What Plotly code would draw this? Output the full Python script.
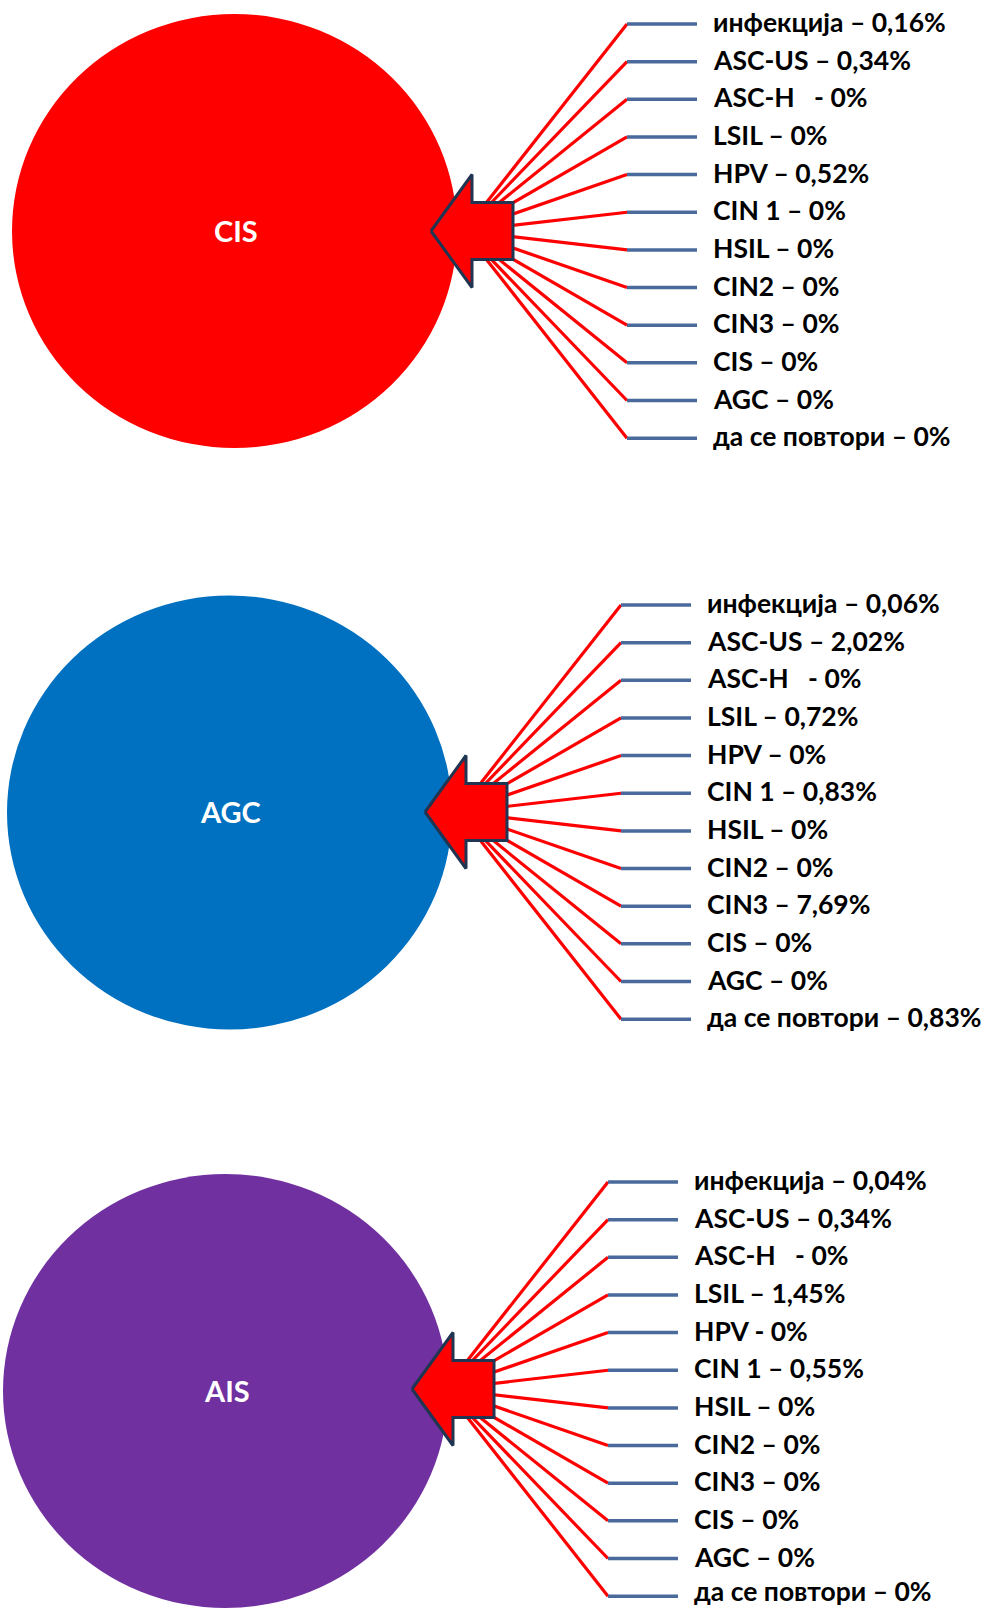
import plotly.graph_objects as go

# ---------------- data ----------------
panels = ["CIS", "AGC", "AIS"]
panel_colors = ["#FE0000", "#0070C0", "#7030A0"]
categories = ["инфекција", "ASC-US", "ASC-H ", "LSIL", "HPV", "CIN 1",
              "HSIL", "CIN2", "CIN3", "CIS", "AGC", "да се повтори"]
cis_values = ["0,16", "0,34", "0", "0", "0,52", "0", "0", "0", "0", "0", "0", "0"]
agc_values = ["0,06", "2,02", "0", "0,72", "0", "0,83", "0", "0", "7,69", "0", "0", "0,83"]
ais_values = ["0,04", "0,34", "0", "1,45", "0", "0,55", "0", "0", "0", "0", "0", "0"]
cis_seps = ["–", "–", " -", "–", "–", "–", "–", "–", "–", "–", "–", "–"]
agc_seps = ["–", "–", " -", "–", "–", "–", "–", "–", "–", "–", "–", "–"]
ais_seps = ["–", "–", " -", "–", "-", "–", "–", "–", "–", "–", "–", "–"]
values = [cis_values, agc_values, ais_values]
seps = [cis_seps, agc_seps, ais_seps]

# ---------------- layout geometry ----------------
W, H = 985, 1608
junction_x = [627, 621, 608]      # where red line meets blue line
top_y = [24, 605, 1182]           # y of first row
circle_c = [(234.5, 231), (229.5, 812.5), (225.5, 1391)]
RX, RY = 222.5, 217
ROW = 37.65
BLUE_LEN = 70
LABEL_GAP = 85
LABEL_SIZE = 26.5
RED = "#FF0000"
BLUE_LINE = "#4A6A9C"
NAVY = "#203552"
FONT = "Lato, 'Noto Sans', sans-serif"

fig = go.Figure()
shapes = []
annotations = []

for p, name in enumerate(panels):
    jx, ty = junction_x[p], top_y[p]
    tipx, tipy = jx - 196, ty + 207
    cx, cy = circle_c[p]
    shapes.append(dict(type="circle", xref="x", yref="y", layer="below",
                       x0=cx - RX, x1=cx + RX, y0=cy - RY, y1=cy + RY,
                       fillcolor=panel_colors[p], line=dict(width=0)))
    annotations.append(dict(x=cx + 1, y=cy - 1, xref="x", yref="y", text=name,
                            showarrow=False, xanchor="center", yanchor="middle",
                            font=dict(family=FONT, size=29, color="white", weight=700)))
    ox, oy = tipx + 33, tipy
    rx, ry, bx, by = [], [], [], []
    for k, cat in enumerate(categories):
        yk = ty + ROW * k
        rx += [ox, jx, None]
        ry += [oy, yk, None]
        bx += [jx, jx + BLUE_LEN, None]
        by += [yk, yk, None]
        ty_text = min(yk - 2, H - LABEL_SIZE * 0.62 - 1)   # keep text inside the page
        annotations.append(dict(x=jx + LABEL_GAP, y=ty_text, xref="x", yref="y",
                                text=f"{cat} {seps[p][k]} {values[p][k]}%",
                                showarrow=False, xanchor="left", yanchor="middle",
                                borderpad=0,
                                font=dict(family=FONT, size=LABEL_SIZE, color="black", weight=700)))
    fig.add_trace(go.Scatter(x=rx, y=ry, mode="lines", line=dict(color=RED, width=3.2),
                             hoverinfo="skip", showlegend=False))
    fig.add_trace(go.Scatter(x=bx, y=by, mode="lines", line=dict(color=BLUE_LINE, width=3.5),
                             hoverinfo="skip", showlegend=False))
    # arrow (pointing left)
    hb, hh, sr, sh = 41, 56.5, 82, 28.5
    ax = [tipx, tipx + hb, tipx + hb, tipx + sr, tipx + sr, tipx + hb, tipx + hb, tipx]
    ay = [tipy, tipy - hh, tipy - sh, tipy - sh, tipy + sh, tipy + sh, tipy + hh, tipy]
    fig.add_trace(go.Scatter(x=ax, y=ay, mode="lines", fill="toself", fillcolor=RED,
                             line=dict(color=NAVY, width=3), hoverinfo="skip",
                             showlegend=False))

fig.update_layout(width=W, height=H, autosize=False,
                  margin=dict(l=0, r=0, t=0, b=0, pad=0),
                  paper_bgcolor="white", plot_bgcolor="white",
                  shapes=shapes, annotations=annotations,
                  xaxis=dict(range=[0, W], visible=False, fixedrange=True),
                  yaxis=dict(range=[H, 0], visible=False, fixedrange=True))

fig.write_html("out.html", config={"displayModeBar": False, "staticPlot": True},
               post_script="document.body.style.margin='0';")
